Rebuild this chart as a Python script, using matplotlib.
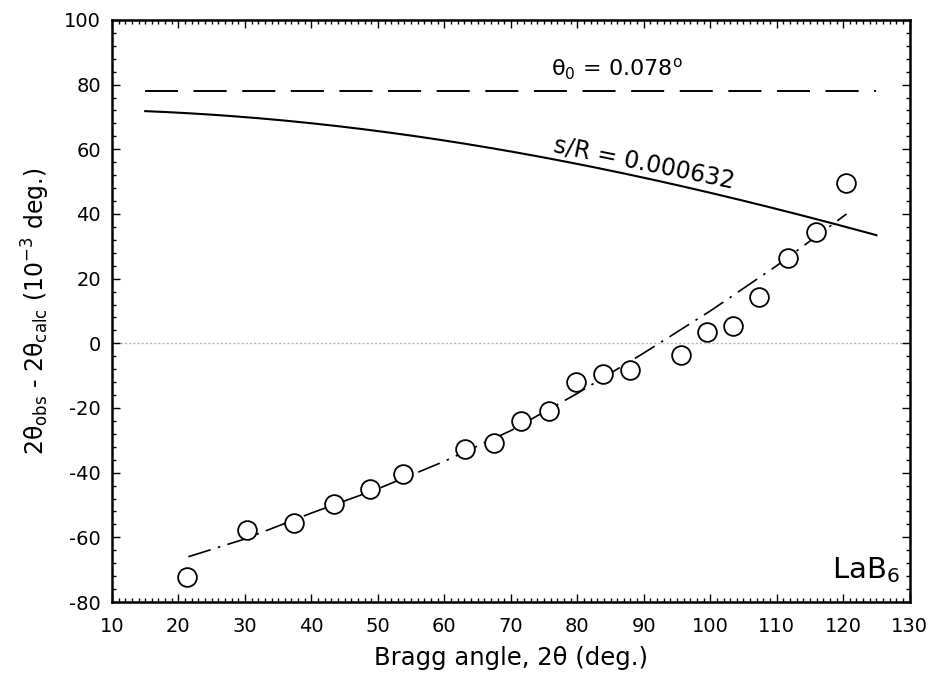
import numpy as np
import matplotlib
matplotlib.use("Agg")
import matplotlib.pyplot as plt
from matplotlib.ticker import MultipleLocator

# Observed peak offsets for LaB6 (Bragg angle 2θ in deg, residual in 1e-3 deg)
two_theta_obs = [21.3, 30.3, 37.4, 43.4, 48.8, 53.8, 63.1, 67.4, 71.6, 75.7,
                 79.8, 83.8, 88.0, 95.6, 99.5, 103.4, 107.4, 111.7, 115.9, 120.4]
delta_obs = [-72.3, -57.7, -55.5, -49.6, -45.1, -40.4, -32.7, -30.8, -24.0, -21.0,
             -12.0, -9.5, -8.3, -3.6, 3.5, 5.2, 14.3, 26.4, 34.4, 49.6]

# Fitted curve through the residuals
two_theta_fit = [21.5, 30, 40, 50, 60, 70, 80, 90, 100, 110, 120.5]
delta_fit = [-66.0, -60.5, -52.5, -45.0, -36.5, -27.0, -15.5, -3.0, 10.0, 24.0, 40.0]

# Instrument parameters
theta0_deg = 0.078          # zero shift
s_over_R = 0.000632         # specimen displacement
two_theta_range = [15, 125]

plt.rcParams["font.family"] = ["DejaVu Sans"]
plt.rcParams["axes.unicode_minus"] = False

fig = plt.figure(figsize=(9.33, 6.88), dpi=100)
ax = fig.add_axes([0.120, 0.125, 0.855, 0.846])

tt = np.linspace(two_theta_range[0], two_theta_range[1], 200)
# displacement term: 2 (s/R) cos(theta), in 1e-3 deg
disp = 2 * s_over_R * np.cos(np.radians(tt / 2)) * np.degrees(1) * 1000
ax.plot(tt, disp, color="black", lw=1.5, zorder=3)
ax.plot(two_theta_range, [theta0_deg * 1000] * 2, color="black", lw=1.4,
        ls=(0, (17, 8)), zorder=3)

ax.axhline(0, color="#b5b5b5", lw=1.0, ls=(0, (1.5, 1.5)), zorder=1)

ax.plot(two_theta_fit, delta_fit, color="black", lw=1.2,
        ls=(0, (14, 4.5, 1.5, 4.5)), zorder=2)
ax.plot(two_theta_obs, delta_obs, ls="none", marker="o", ms=13.5,
        mfc="white", mec="black", mew=1.3, zorder=4)

ax.text(76.1, 82.6, r"θ$_\mathregular{0}$ = 0.078$^\mathregular{o}$", fontsize=16,
        ha="left", va="baseline")
ax.text(76.3, 59.2, "s/R = 0.000632", fontsize=17, ha="left", va="baseline",
        rotation=-11.5, rotation_mode="anchor")
ax.text(128.5, -72.6, r"LaB$_\mathregular{6}$", fontsize=21, ha="right",
        va="baseline")

ax.set_xlim(10, 130)
ax.set_ylim(-80, 100)
ax.xaxis.set_major_locator(MultipleLocator(10))
ax.xaxis.set_minor_locator(MultipleLocator(1))
ax.yaxis.set_major_locator(MultipleLocator(20))
ax.yaxis.set_minor_locator(MultipleLocator(4))
ax.tick_params(which="both", direction="in", top=True, right=True, width=1.0)
ax.tick_params(which="major", length=6, labelsize=14)
ax.tick_params(which="minor", length=3)
ax.tick_params(axis="x", pad=11)
ax.tick_params(axis="y", pad=8)
for sp in ax.spines.values():
    sp.set_linewidth(1.8)

ax.set_xlabel("Bragg angle, 2θ (deg.)", fontsize=17.5, labelpad=7)
ax.set_ylabel(r"2θ$_\mathregular{obs}$ - 2θ$_\mathregular{calc}$ (10$^\mathregular{-3}$ deg.)",
              fontsize=17)
ax.yaxis.set_label_coords(-0.075, 0.5)

fig.savefig("out.png", dpi=100)
